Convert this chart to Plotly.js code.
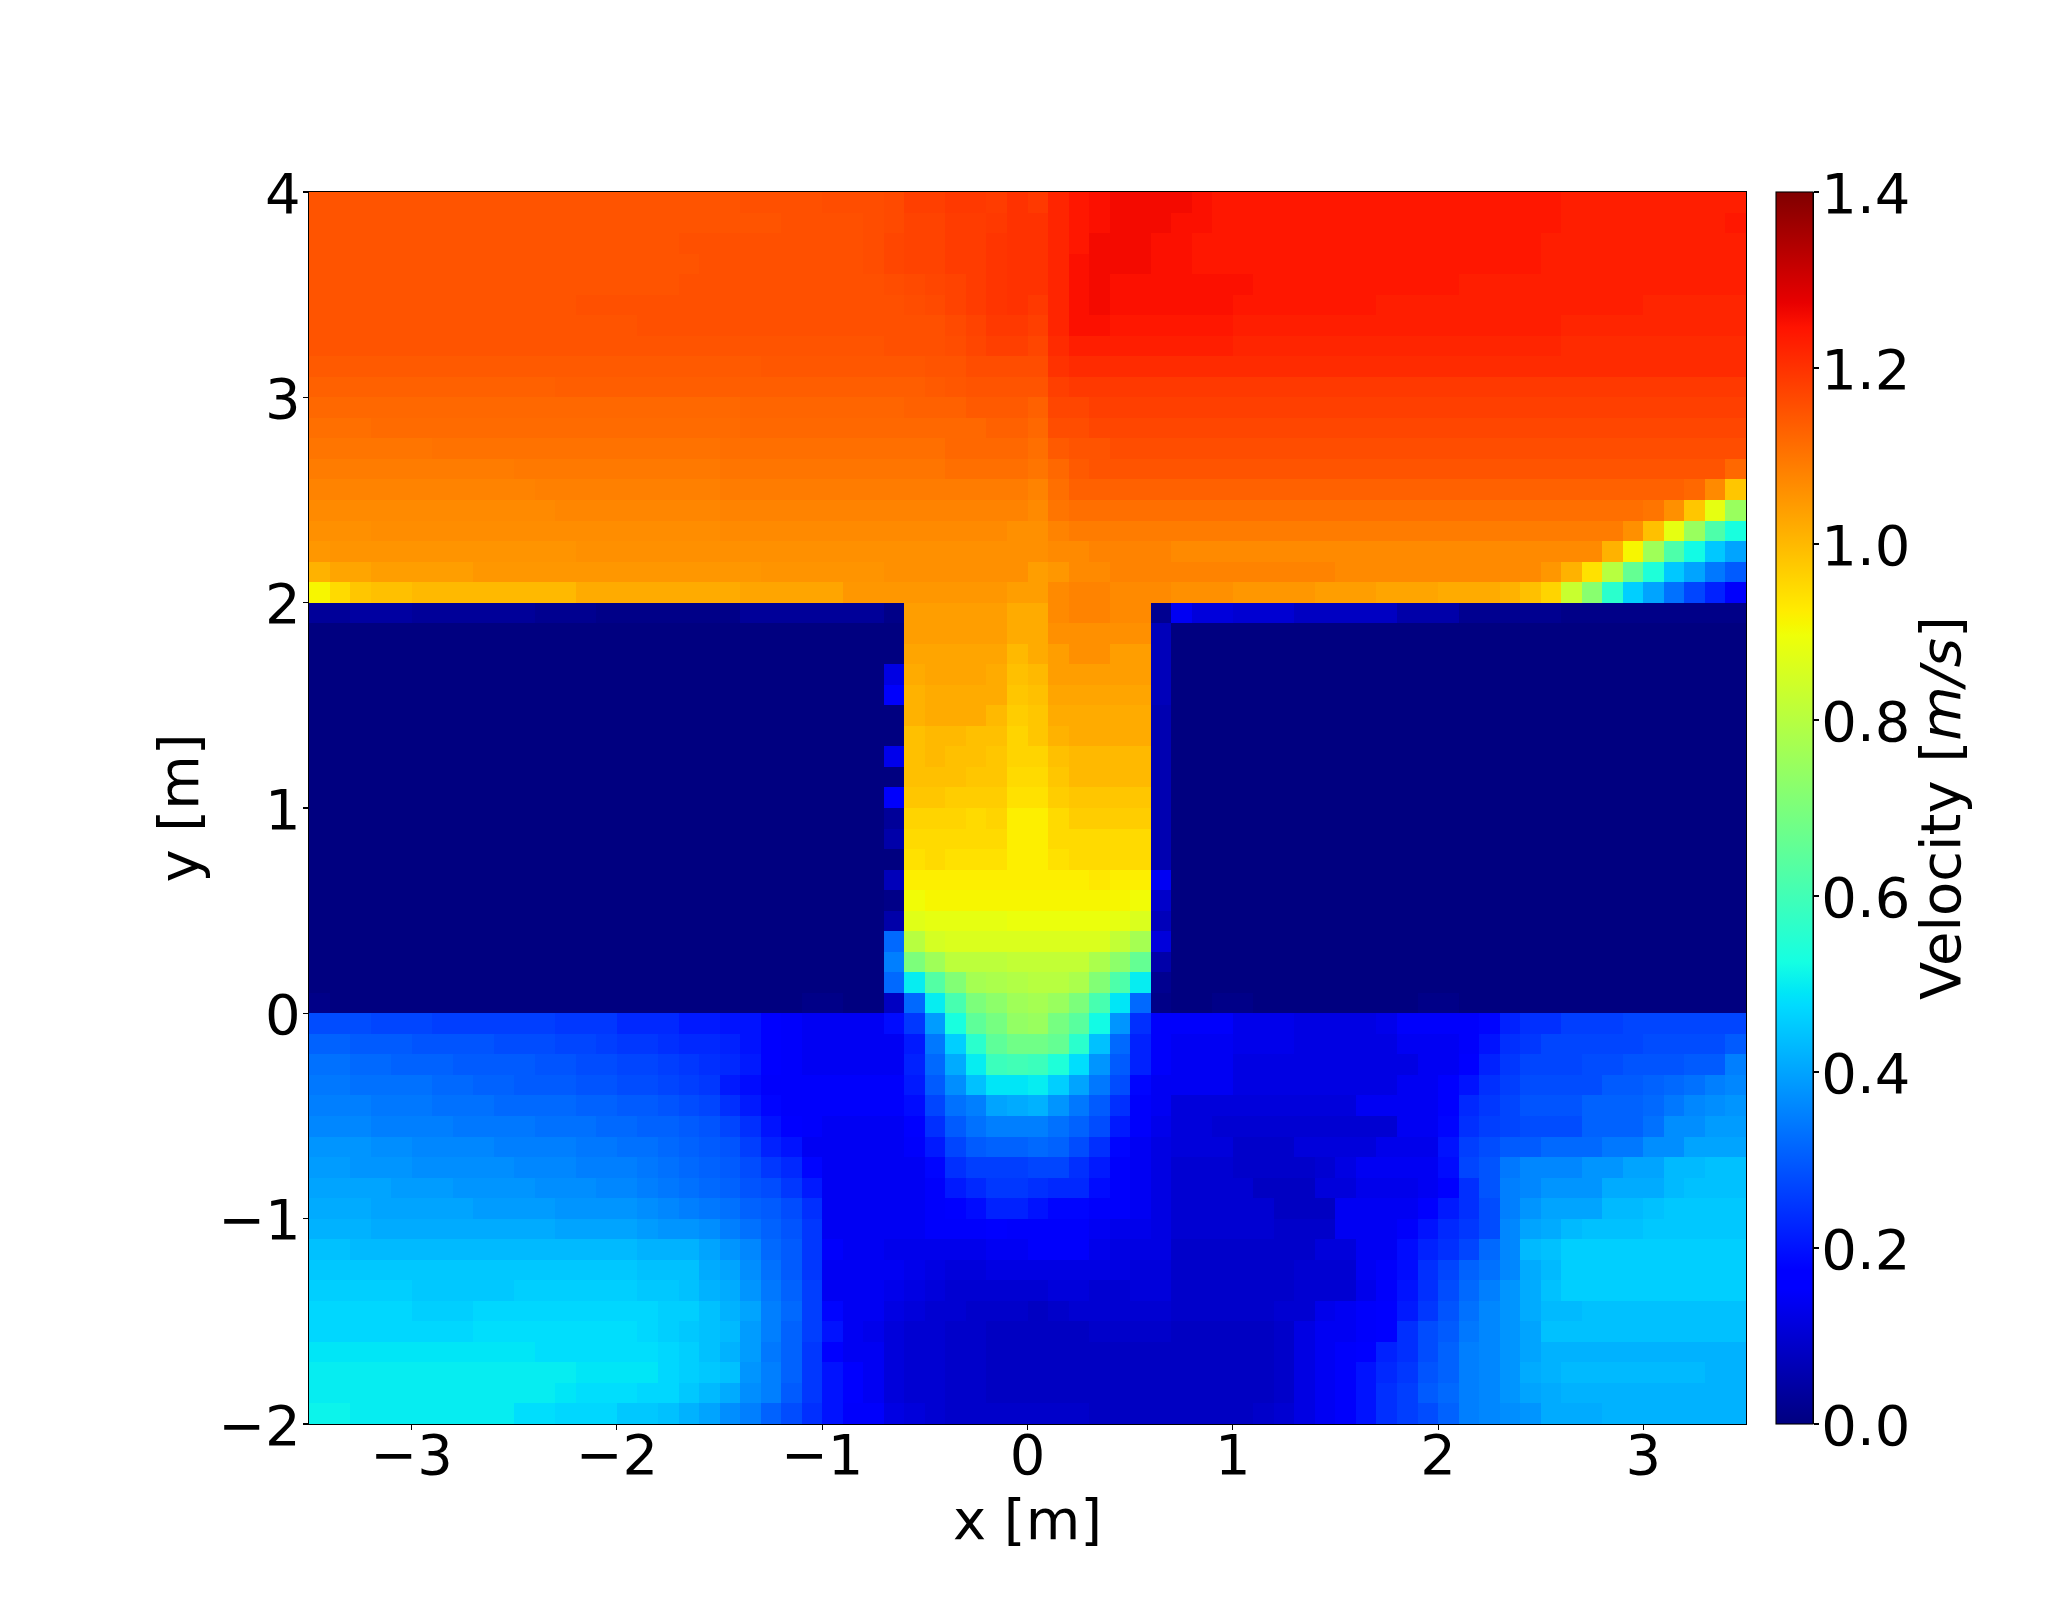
<!DOCTYPE html>
<html><head><meta charset="utf-8">
<script src="https://cdn.plot.ly/plotly-3.0.1.min.js"></script>
<style>html,body{margin:0;padding:0;background:#fff}</style>
</head><body><div id="c" style="width:2066px;height:1600px"></div>
<script>
// velocity x100, rows from the top of the plot downward, 70 columns
const rowsUpper = [
[115,115,115,115,115,115,115,115,115,115, 115,115,115,115,115,115,115,115,115,115, 115,115.5,115.5,115.5,115.5,116,116,116,116.5,118, 118,119,119,118.5,120,119,122,124,125,126, 126,126,126,125,124,124,124,124,124,124, 124,124,124,124,124,124,124,124,124,124, 124,123,123,123,123,123,123,123,123,123],
[115,115,115,115,115,115,115,115,115,115, 115,115,115,115,115,115,115,115,115,115, 115,115,115,115.5,115.5,115.5,115.5,116,116.5,117.5, 117.5,118.5,118.5,119,120,120,122,124,125,126, 126,126,125,125,124,124,124,124,124,124, 124,124,124,124,124,124,124,124,124,124, 124,123,123,123,123,123,123,123,123,124],
[115,115,115,115,115,115,115,115,115,115, 115,115,115,115,115,115,115,115,115.5,115.5, 115.5,115.5,115.5,115.5,115.5,115.5,115.5,116,117,117.5, 117.5,118.5,118.5,119.5,120,120,122,124,126,126, 126,125,125,124,124,124,124,124,124,124, 124,124,124,124,124,124,124,124,124,124, 123,123,123,123,123,123,123,123,123,123],
[115,115,115,115,115,115,115,115,115,115, 115,115,115,115,115,115,115,115,115,115.5, 115.5,115.5,115.5,115.5,115.5,115.5,115.5,116,117,117.5, 117.5,118.5,118.5,119.5,120,120,122,125,126,126, 126,125,125,124,124,124,124,124,124,124, 124,124,124,124,124,124,124,124,124,124, 123,123,123,123,123,123,123,123,123,123],
[115,115,115,115,115,115,115,115,115,115, 115,115,115,115,115,115,115,115,115.5,115.5, 115.5,115.5,115.5,115.5,115.5,115.5,115.5,115.5,116,116.5, 117,117.5,118.5,119.5,120,120,122,125,126,125, 125,125,125,125,125,125,124,124,124,124, 124,124,124,124,124,124,123,123,123,123, 123,123,123,123,123,123,123,123,123,123],
[115,115,115,115,115,115,115,115,115,115, 115,115,115,115.5,115.5,115.5,115.5,115.5,115.5,115.5, 115.5,115.5,115.5,115.5,115.5,115.5,115.5,115.5,115.5,116, 116.5,117.5,118.5,119.5,120,119,122,125,126,125, 125,125,125,125,125,124,124,124,124,124, 124,124,123,123,123,123,123,123,123,123, 123,123,123,123,123,122,122,122,122,122],
[115,115,115,115,115,115,115,115,115,115, 115,115,115,115,115,115,115.5,115.5,115.5,115.5, 115.5,115.5,115.5,115.5,115.5,115.5,115.5,115.5,115.5,115.5, 115.5,116.5,117.5,119,119,118,122,125,125,124, 124,124,124,124,124,123,123,123,123,123, 123,123,123,123,123,123,123,123,123,123, 123,122,122,122,122,122,122,122,122,122],
[115,115,115,115,115,115,115,115,115,115, 115,115,115,115,115,115,115,115,115,115, 115,115,115,115,115,115,115,115,115.5,115.5, 115.5,116,117,118,118,117,121,123,123,123, 123,123,123,123,123,122,122,122,122,122, 122,122,122,122,122,122,122,122,122,122, 122,121,121,121,121,121,121,121,121,121],
[114,114,114,114,114,114,114,114,114,114, 114,114,114,114,114,114,114,114,114,114, 114,114,114.5,114.5,114.5,114.5,114.5,114.5,114.5,114.5, 115,115,116,116,116,116,120,121,121,121, 121,121,121,121,121,121,121,121,121,121, 121,121,121,121,121,121,121,121,121,121, 121,121,121,121,121,121,121,121,121,121],
[113,113,113,113,113,113,113,113,113,113, 113,113,113.5,113.5,113.5,113.5,113.5,113.5,113.5,113.5, 113.5,113.5,113.5,113.5,113.5,113.5,113.5,113.5,113.5,113.5, 114,114.5,115,115,115,115,118,119,119,119, 119,119,119,119,119,119,119,119,119,119, 119,119,119,119,119,119,119,119,119,119, 119,119,119,119,119,119,119,119,119,119],
[112,112,112,112,112,112,112,112,112,112, 112,112,112,112,112,112,112,112,112,112, 112,112.5,112.5,112.5,112.5,112.5,112.5,112.5,112.5,113, 113,113,114,114,114,113,117,117,118,118, 118,118,118,118,118,118,118,118,118,118, 118,118,118,118,118,118,118,118,118,118, 118,118,118,118,118,118,118,118,118,118],
[111,111,111,111.5,111.5,111.5,111.5,111.5,111.5,111.5, 111.5,111.5,111.5,111.5,111.5,111.5,111.5,111.5,111.5,111.5, 111.5,112,112,112,112,112,112,112,112,112, 112,112,112,113,113,112,116,116,117,117, 117,117,117,117,117,117,117,117,117,117, 117,117,117,117,117,117,117,117,117,117, 117,117,117,117,117,117,117,117,117,117],
[110,110,110,110,110,110,110.5,110.5,110.5,110.5, 110.5,110.5,110.5,110.5,110.5,110.5,110.5,110.5,110.5,110.5, 111,111,111,111,111,111,111,111,111,111, 111,112,112,112,112,111,114,115,115,116, 116,116,116,116,116,116,116,116,116,116, 116,116,116,116,116,116,116,116,116,116, 116,116,116,116,116,116,116,116,116,116],
[109,109,109,109,109,109,109,109,109,109, 109.5,109.5,109.5,109.5,109.5,109.5,109.5,109.5,109.5,109.5, 110,110,110,110,110,110,110,110,110,110, 110,111,111,111,111,110,112,114,115,115, 115,115,115,115,115,115,115,115,115,115, 115,115,115,115,115,115,115,115,115,115, 115,115,115,115,115,115,115,115,115,112],
[108,108,108,108,108,108,108,108,108,108, 108,108.5,108.5,108.5,108.5,108.5,108.5,108.5,108.5,108.5, 109,109,109,109,109,109,109,109,109,109, 109,109,109,109,109,108,111,113,113,113, 113,113,113,113,113,113,113,113,113,113, 113,113,113,113,113,113,113,113,113,113, 113,113,113,113,113,113,113,112,107,98],
[107,107,107,107,107,107,107,107,107,107, 107,107,107.5,107.5,107.5,107.5,107.5,107.5,107.5,107.5, 108,108,108,108,108,108,108,108,108,108, 108,108,108,108,108,107,110,111,111,111, 111,111,111,111,111,111,111,111,111,111, 111,111,111,111,111,111,111,111,111,111, 111,111,111,111,111,110,106,98,88,75],
[106,106,106,106.5,106.5,106.5,106.5,106.5,106.5,106.5, 106.5,106.5,106.5,106.5,106.5,106.5,106.5,106.5,106.5,106.5, 107,107,107,107,107,107,107,107,107,107, 107,107,107,107,106,106,108,109,109,109, 109,109,109,109,109,109,109,109,109,109, 109,109,109,109,109,109,109,109,109,109, 109,109,109,109,106,99,88,75,62,53],
[105,105.5,105.5,105.5,105.5,105.5,105.5,105.5,105.5,105.5, 105.5,105.5,105.5,106,106,106,106,106,106,106, 106,106,106,106,106,106,106,106,106,106, 106,106,106,106,106,106,107,107,108,108, 108,108,107,107,107,107,107,107,107,107, 107,107,107,107,107,107,107,107,107,107, 107,107,107,101,91,76,62,52,45,40],
[101,103,103,104,104,104,104,104,105,105, 105,105,105,105,105,105,105,105,105,105, 105,105,105.5,105.5,105.5,105.5,105.5,105.5,106,106, 106,106,106,106,106,104,105,107,107,108, 108,108,108,108,108,108,108,108,108,108, 107,107,107,107,107,107,107,107,107,107, 105,101,94,80,66,54,45,40,34,30],
[91,95,98,99,99,100,100,100,100,100, 100,100,100,102,102,102,102,102,102,102, 102,103,103,103,103,103,105,105,105,105, 105,105,105,105,104,104,107,108,108,107, 107,107,106,106,106,105,105,105,105,104, 104,104,103,103,103,102,102,102,101,99, 96,83,72,56,46,40,33,27,22,15]
];
const rowsMiddle = [
[3,3,4,4,4,3,3,3,3,3, 3,2,2,2,1,1,1,1,1,1, 1,3,3,3,3,3,3,3,1,104, 104,104,104,104,102,102,107,108,108,107, 107,2,14,11,11,10,10,10,8,8, 8,8,8,5,5,5,2,2,2,2, 2,1,1,1,1,1,1,1,1,1],
[0,0,0,0,0,0,0,0,0,0, 0,0,0,0,0,0,0,0,0,0, 0,0,0,0,0,0,0,0,0,104, 104,104,104,104,102,102,106,106,106,106, 106,7,0,0,0,0,0,0,0,0, 0,0,0,0,0,0,0,0,0,0, 0,0,0,0,0,0,0,0,0,0],
[0,0,0,0,0,0,0,0,0,0, 0,0,0,0,0,0,0,0,0,0, 0,0,0,0,0,0,0,0,0,103, 103,103,103,103,100,102,104,106,106,104, 104,7,0,0,0,0,0,0,0,0, 0,0,0,0,0,0,0,0,0,0, 0,0,0,0,0,0,0,0,0,0],
[0,0,0,0,0,0,0,0,0,0, 0,0,0,0,0,0,0,0,0,0, 0,0,0,0,0,0,0,0,12,102, 103,103,103,102,99,100,104,104,104,104, 104,7,0,0,0,0,0,0,0,0, 0,0,0,0,0,0,0,0,0,0, 0,0,0,0,0,0,0,0,0,0],
[0,0,0,0,0,0,0,0,0,0, 0,0,0,0,0,0,0,0,0,0, 0,0,0,0,0,0,0,0,15,101, 102,102,102,102,98,99,103,103,103,103, 103,7,0,0,0,0,0,0,0,0, 0,0,0,0,0,0,0,0,0,0, 0,0,0,0,0,0,0,0,0,0],
[0,0,0,0,0,0,0,0,0,0, 0,0,0,0,0,0,0,0,0,0, 0,0,0,0,0,0,0,0,0,101, 102,102,102,100,97,98,102,102,102,102, 102,6,0,0,0,0,0,0,0,0, 0,0,0,0,0,0,0,0,0,0, 0,0,0,0,0,0,0,0,0,0],
[0,0,0,0,0,0,0,0,0,0, 0,0,0,0,0,0,0,0,0,0, 0,0,0,0,0,0,0,0,0,99, 100,100,99,99,96,98,101,102,102,102, 102,6,0,0,0,0,0,0,0,0, 0,0,0,0,0,0,0,0,0,0, 0,0,0,0,0,0,0,0,0,0],
[0,0,0,0,0,0,0,0,0,0, 0,0,0,0,0,0,0,0,0,0, 0,0,0,0,0,0,0,0,13,99, 100,99,99,98,96,96,99,100,100,100, 100,6,0,0,0,0,0,0,0,0, 0,0,0,0,0,0,0,0,0,0, 0,0,0,0,0,0,0,0,0,0],
[0,0,0,0,0,0,0,0,0,0, 0,0,0,0,0,0,0,0,0,0, 0,0,0,0,0,0,0,0,0,99, 99,99,98,98,95,95,98,100,100,100, 100,6,0,0,0,0,0,0,0,0, 0,0,0,0,0,0,0,0,0,0, 0,0,0,0,0,0,0,0,0,0],
[0,0,0,0,0,0,0,0,0,0, 0,0,0,0,0,0,0,0,0,0, 0,0,0,0,0,0,0,0,15,98, 98,97,97,97,94,94,97,98,98,98, 98,6,0,0,0,0,0,0,0,0, 0,0,0,0,0,0,0,0,0,0, 0,0,0,0,0,0,0,0,0,0],
[0,0,0,0,0,0,0,0,0,0, 0,0,0,0,0,0,0,0,0,0, 0,0,0,0,0,0,0,0,3,96, 96,96,95,96,92,92,95,97,97,97, 97,6,0,0,0,0,0,0,0,0, 0,0,0,0,0,0,0,0,0,0, 0,0,0,0,0,0,0,0,0,0],
[0,0,0,0,0,0,0,0,0,0, 0,0,0,0,0,0,0,0,0,0, 0,0,0,0,0,0,0,0,5,95, 95,95,95,95,92,92,95,95,95,95, 95,6,0,0,0,0,0,0,0,0, 0,0,0,0,0,0,0,0,0,0, 0,0,0,0,0,0,0,0,0,0],
[0,0,0,0,0,0,0,0,0,0, 0,0,0,0,0,0,0,0,0,0, 0,0,0,0,0,0,0,0,0,94, 95,94,94,94,92,92,94,95,95,95, 95,6,0,0,0,0,0,0,0,0, 0,0,0,0,0,0,0,0,0,0, 0,0,0,0,0,0,0,0,0,0],
[0,0,0,0,0,0,0,0,0,0, 0,0,0,0,0,0,0,0,0,0, 0,0,0,0,0,0,0,0,7,92, 92,92,92,92,92,92,92,92,93,92, 92,14,0,0,0,0,0,0,0,0, 0,0,0,0,0,0,0,0,0,0, 0,0,0,0,0,0,0,0,0,0],
[0,0,0,0,0,0,0,0,0,0, 0,0,0,0,0,0,0,0,0,0, 0,0,0,0,0,0,0,0,1,90, 91,91,91,91,91,91,91,91,91,91, 90,9,0,0,0,0,0,0,0,0, 0,0,0,0,0,0,0,0,0,0, 0,0,0,0,0,0,0,0,0,0],
[0,0,0,0,0,0,0,0,0,0, 0,0,0,0,0,0,0,0,0,0, 0,0,0,0,0,0,0,0,5,87, 88,88,88,88,89,89,89,89,89,88, 86,7,0,0,0,0,0,0,0,0, 0,0,0,0,0,0,0,0,0,0, 0,0,0,0,0,0,0,0,0,0],
[0,0,0,0,0,0,0,0,0,0, 0,0,0,0,0,0,0,0,0,0, 0,0,0,0,0,0,0,0,32,80, 85,86,86,86,86,86,86,86,86,82, 77,11,0,0,0,0,0,0,0,0, 0,0,0,0,0,0,0,0,0,0, 0,0,0,0,0,0,0,0,0,0],
[0,0,0,0,0,0,0,0,0,0, 0,0,0,0,0,0,0,0,0,0, 0,0,0,0,0,0,0,0,35,70, 76,81,81,81,82,82,82,82,78,73, 66,5,0,0,0,0,0,0,0,0, 0,0,0,0,0,0,0,0,0,0, 0,0,0,0,0,0,0,0,0,0],
[0,0,0,0,0,0,0,0,0,0, 0,0,0,0,0,0,0,0,0,0, 0,0,0,0,0,0,0,0,32,50, 63,71,77,78,79,80,80,78,71,62, 50,2,0,0,0,0,0,0,0,0, 0,0,0,0,0,0,0,0,0,0, 0,0,0,0,0,0,0,0,0,0],
[1,0,0,0,0,0,0,0,0,0, 0,0,0,0,0,0,0,0,0,0, 0,0,0,0,1,1,0,0,8,32, 50,61,70,73,76,77,75,70,61,49, 32,1,0,0,1,1,0,0,0,0, 0,0,0,0,1,1,0,0,0,0, 0,0,0,0,0,0,0,0,0,0]
];
const rowsLower = [
[28,28,28,27,27,27,26,26,26,26, 26,26,25,25,25,23,23,23,21,21, 20,20,17,15,14,14,14,14,19,25, 39,53,65,69,74,75,69,64,52,38, 24,15,15,15,15,13,13,13,12,12, 12,12,13,15,15,15,15,18,22,24, 24,26,26,26,27,27,27,27,27,27],
[31,31,30,30,30,29,29,29,29,28, 28,28,27,27,26,25,25,24,23,23, 22,20,16,15,14,14,14,14,14,21, 34,46,56,65,68,68,66,56,44,32, 22,15,14,14,14,13,13,13,12,12, 12,12,12,14,14,14,15,20,24,25, 27,27,27,27,27,28,28,28,28,30],
[33,33,32,32,31,31,31,30,30,30, 30,29,29,28,28,27,27,26,25,24, 23,21,17,15,14,14,14,14,14,22, 32,41,50,59,60,59,54,48,38,30, 22,15,14,14,14,12,12,12,12,12, 12,12,12,12,14,14,16,22,25,27, 27,27,28,28,29,29,29,30,30,35],
[34,34,33,33,33,33,32,32,31,31, 30,30,30,29,29,28,28,27,26,25, 21,19,15,15,15,15,15,15,15,21, 30,37,44,49,49,50,46,40,34,28, 18,14,14,14,14,12,12,12,12,12, 12,12,12,14,14,16,20,24,26,28, 28,28,28,30,30,31,32,33,35,36],
[35,35,35,34,34,34,33,33,33,32, 32,32,32,31,31,30,30,29,28,27, 24,21,18,15,15,15,15,15,15,19, 27,33,35,40,41,42,38,34,30,24, 15,14,11,11,11,11,11,11,11,11, 11,14,14,14,14,16,23,25,27,29, 29,29,31,31,31,32,34,36,37,38],
[36,36,36,35,35,35,35,34,34,34, 34,33,33,33,32,32,31,31,30,29, 27,24,20,16,15,14,14,14,14,17, 24,30,33,35,35,35,33,31,28,21, 15,13,11,11,10,10,10,10,10,10, 10,10,10,14,14,18,24,26,27,28, 28,28,31,31,31,33,37,37,39,39],
[38,38,38,37,37,36,36,36,36,35, 35,35,35,34,34,33,33,32,31,30, 29,26,22,20,14,14,14,14,14,15, 21,27,30,31,31,32,31,28,24,18, 14,12,11,11,11,9,9,9,11,11, 11,11,13,13,13,20,26,28,30,30, 32,32,32,34,34,37,37,40,40,40],
[39,39,38,38,38,37,37,37,37,37, 36,36,36,35,35,35,34,33,32,31, 30,28,25,23,18,14,14,14,14,14, 18,24,26,26,26,27,27,24,21,15, 14,12,10,10,10,9,9,9,9,10, 12,14,14,14,14,19,27,29,34,36, 36,36,38,38,40,40,43,43,44,44],
[40,40,40,40,39,39,39,38,38,38, 38,37,37,37,36,36,35,34,33,32, 31,29,28,25,21,14,14,14,14,14, 15,21,23,25,25,24,23,23,19,15, 14,12,10,10,10,10,8,8,8,11, 11,13,13,13,14,16,24,29,35,36, 38,38,38,41,41,41,43,44,44,44],
[41,41,41,40,40,40,40,40,39,39, 39,39,38,38,38,38,37,36,35,34, 33,31,30,28,24,14,14,14,14,14, 15,16,19,22,22,20,18,18,15,15, 14,12,10,10,10,10,10,8,8,8, 14,14,14,14,16,21,24,28,35,38, 40,40,40,43,43,44,45,45,45,45],
[42,42,42,41,41,41,41,41,41,41, 41,41,40,40,40,40,39,38,38,37, 35,33,31,29,25,14,14,14,14,14, 15,15,15,16,15,15,15,15,14,13, 13,12,10,10,10,10,10,9,9,9, 14,14,14,15,20,23,25,28,36,40, 41,43,44,44,44,45,45,45,45,45],
[44,44,43,43,43,43,43,43,43,43, 43,43,43,43,43,43,42,42,42,40, 38,36,32,30,25,15,14,14,13,13, 13,13,13,14,14,15,15,15,13,12, 12,12,9,9,9,9,9,9,9,11, 11,14,14,19,22,24,27,32,36,43, 44,46,46,46,46,46,46,46,46,46],
[45,45,45,45,45,45,45,45,45,45, 45,45,45,45,45,45,44,44,44,41, 40,37,33,30,25,14,14,14,14,13, 12,11,11,12,12,12,12,12,12,12, 11,11,9,9,9,9,9,9,10,10, 10,14,15,19,24,27,31,33,36,41, 43,46,46,46,46,46,46,46,46,46],
[46,46,46,46,46,45,45,45,45,45, 46,46,46,46,46,46,45,45,44,42, 41,38,34,31,26,14,14,14,13,12, 11,10,10,10,10,10,11,11,10,10, 11,11,9,9,9,9,9,9,10,10, 10,13,15,20,24,28,32,35,38,41, 44,46,46,46,46,46,46,46,46,46],
[47,47,47,47,47,46,46,46,47,47, 47,47,47,47,47,47,47,46,46,44, 42,40,35,32,26,18,14,14,12,11, 10,10,9,9,9,8,9,10,10,10, 10,10,9,9,9,9,9,10,10,13, 14,15,16,21,25,29,33,36,38,41, 43,43,44,44,44,44,44,44,44,44],
[47,47,47,47,47,47,47,47,48,48, 48,48,48,48,48,48,47,46,45,44, 43,39,35,31,26,20,14,13,11,10, 10,9,9,8,8,8,8,8,9,9, 9,9,8,8,8,8,8,9,12,14, 14,15,16,24,28,30,34,36,38,40, 44,44,44,44,44,44,44,44,44,44],
[49,49,49,49,49,49,49,49,49,49, 49,48,48,48,48,48,48,47,46,44, 42,39,34,31,25,16,14,14,11,10, 10,9,9,8,8,8,8,8,8,8, 8,8,8,8,8,8,8,9,12,14, 15,16,22,24,28,31,35,36,38,40, 42,42,42,42,42,42,42,42,42,42],
[50,50,50,50,50,50,50,50,50,50, 50,50,50,49,49,49,49,47,46,45, 44,38,35,31,25,20,16,14,11,10, 10,9,9,8,8,8,8,8,8,8, 8,8,8,8,8,8,8,9,12,14, 15,20,23,25,29,31,35,36,38,41, 42,43,43,43,43,43,43,43,42,42],
[50,50,50,50,50,50,50,50,50,50, 50,50,49,48,48,48,47,47,45,43, 41,37,35,30,25,20,16,14,11,10, 10,9,9,8,8,8,8,8,8,8, 8,8,8,8,8,8,8,9,12,14, 15,20,24,26,30,32,35,36,38,40, 41,42,42,42,42,42,42,42,42,42],
[51,51,50,50,50,50,50,50,50,50, 48,48,47,47,47,45,45,44,42,40, 37,35,31,28,24,20,15,15,12,11, 10,9,9,9,9,9,9,9,8,8, 8,8,8,8,8,8,9,10,12,14, 15,20,24,26,28,31,35,36,37,38, 41,41,41,42,42,42,42,42,42,42]
];
const xTicks = [-3,-2,-1,0,1,2,3];
const yTicks = [-2,-1,0,1,2,3,4];
const cbarTicks = [0,0.2,0.4,0.6,0.8,1.0,1.2,1.4];
const xTitle = 'x [m]';
const yTitle = 'y [m]';
const cbarTitle = 'Velocity [<i>m/s</i>]';

const all = rowsUpper.concat(rowsMiddle, rowsLower);
all.forEach((r,i)=>{ if(r.length!==70) throw new Error('row '+i+' has '+r.length); });
const z = all.slice().reverse().map(r=>r.map(v=>v/100));

const jet = [
 [0,'rgb(0,0,128)'],[0.11,'rgb(0,0,255)'],[0.125,'rgb(0,0,255)'],[0.34,'rgb(0,219,255)'],
 [0.35,'rgb(0,230,247)'],[0.375,'rgb(21,255,226)'],[0.64,'rgb(239,255,8)'],[0.65,'rgb(247,246,0)'],
 [0.66,'rgb(255,236,0)'],[0.89,'rgb(255,19,0)'],[0.91,'rgb(232,0,0)'],[1,'rgb(128,0,0)']
];
const F = 'DejaVu Sans';
const fnt = {family:F,size:56,color:'#000'};
const L = 308.5, R = 1746, T = 192, B = 1424, CL = 1776, CR = 1813;
const W = 2066, H = 1600;
const full = CR-L;
Plotly.newPlot('c',[{
  type:'heatmap', z:z, x0:-3.45, dx:0.1, y0:-1.95, dy:0.1,
  zmin:0, zmax:1.4, colorscale:jet, zsmooth:false, hoverinfo:'skip',
  colorbar:{
    x:(CL-L)/full, xanchor:'left', xpad:0, ypad:0, y:0, yanchor:'bottom', len:1, lenmode:'fraction',
    thickness:CR-CL, thicknessmode:'pixels', outlinewidth:1.1, outlinecolor:'#000',
    ticks:'', showticklabels:false
  }
},{
  type:'scatter', mode:'none', x:[0], y:[0], yaxis:'y2', showlegend:false, hoverinfo:'skip'
}],{
  width:W, height:H, paper_bgcolor:'#fff', plot_bgcolor:'#fff',
  margin:{l:L,r:W-CR,t:T,b:H-B,pad:0},
  font:fnt,
  xaxis:{domain:[0,(R-L)/full], range:[-3.5,3.5], tickvals:xTicks, ticks:'outside', ticklen:5, tickwidth:1.1, tickcolor:'#000',
    showline:true, linecolor:'#000', linewidth:1.1, mirror:true, showgrid:false, zeroline:false,
    tickfont:fnt, ticklabelstandoff:-23,
    title:{text:xTitle, font:fnt, standoff:0}},
  yaxis:{range:[-2,4], tickvals:yTicks, ticks:'outside', ticklen:5, tickwidth:1.1, tickcolor:'#000',
    showline:true, linecolor:'#000', linewidth:1.1, mirror:true, showgrid:false, zeroline:false,
    tickfont:fnt, ticklabelstandoff:-9, ticklabelshift:1,
    title:{text:yTitle, font:fnt, standoff:1}},
  yaxis2:{overlaying:'y', side:'right', anchor:'free', position:1, range:[0,1.4],
    tickmode:'array', tickvals:cbarTicks, ticktext:cbarTicks.map(v=>v.toFixed(1)),
    ticks:'outside', ticklen:5, tickwidth:1.1, tickcolor:'#000',
    showline:true, linecolor:'#000', linewidth:1.1, showgrid:false, zeroline:false,
    tickfont:fnt, ticklabelstandoff:-9, ticklabelshift:1},
  annotations:[{text:cbarTitle, xref:'paper', yref:'paper', x:(1940-L)/full, y:0.5, xanchor:'center', yanchor:'middle',
    textangle:-90, showarrow:false, font:fnt}]
},{displayModeBar:false,staticPlot:true});
</script></body></html>
